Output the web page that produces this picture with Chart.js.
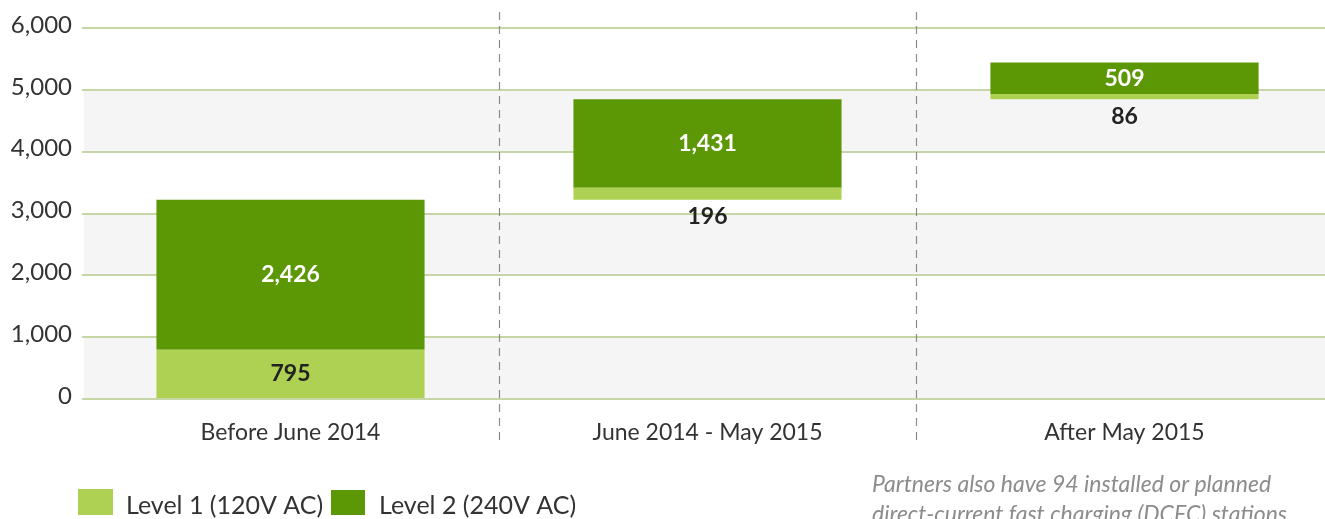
<!DOCTYPE html>
<html lang="en">
    <head>
        <meta charset="utf-8" />
        <script src="https://cdn.jsdelivr.net/npm/chart.js@4/dist/chart.umd.min.js"></script>
        <title>Charging stations</title>
        <style>
            html, body { margin: 0; background: #fff; overflow: hidden; }
        </style>
    </head>
    <body>
        <canvas id="estaciones" width="1333" height="519"></canvas>
        <script>
            var periodos = ["Before June 2014", "June 2014 - May 2015", "After May 2015"];
            var nivel1 = [795, 196, 86];
            var nivel2 = [2426, 1431, 509];
            var ticksY = [0, 1000, 2000, 3000, 4000, 5000, 6000];
            var leyenda = ["Level 1 (120V AC)", "Level 2 (240V AC)"];
            var nota = ["Partners also have 94 installed or planned", "direct-current fast charging (DCFC) stations"];

            var colorN1 = "#aed153", colorN2 = "#5c9705";

            // barras flotantes tipo cascada
            var tramos1 = [], tramos2 = [], base = 0;
            nivel1.forEach((v, i) => {
                tramos1.push([base, base + v]);
                tramos2.push([base + v, base + v + nivel2[i]]);
                base += v + nivel2[i];
            });

            Chart.defaults.font.family = "Lato";
            Chart.defaults.color = "#333";

            var fondo = {
                id: "fondo",
                beforeDraw(chart) {
                    var ctx = chart.ctx, y = chart.scales.y, a = chart.chartArea;
                    ctx.save();
                    ctx.fillStyle = "#f5f5f5";
                    [[0, 1000], [2000, 3000], [4000, 5000]].forEach(b => {
                        var y1 = y.getPixelForValue(b[1]), y0 = y.getPixelForValue(b[0]);
                        ctx.fillRect(a.left + 2, y1, a.right - a.left, y0 - y1);
                    });
                    ctx.restore();
                },
                beforeDatasetsDraw(chart) {
                    var ctx = chart.ctx, x = chart.scales.x;
                    ctx.save();
                    ctx.strokeStyle = "#8a8a8a";
                    ctx.lineWidth = 1.2;
                    ctx.setLineDash([8, 6]);
                    for (var i = 1; i < periodos.length; i++) {
                        var px = Math.round((x.getPixelForValue(i - 1) + x.getPixelForValue(i)) / 2) + 0.5;
                        ctx.beginPath();
                        ctx.moveTo(px, 12);
                        ctx.lineTo(px, 446);
                        ctx.stroke();
                    }
                    ctx.restore();
                },
                afterDraw(chart) {
                    var ctx = chart.ctx;
                    ctx.save();
                    // etiquetas de valores
                    ctx.font = "bold 23px Lato";
                    ctx.textAlign = "center";
                    ctx.textBaseline = "middle";
                    var m1 = chart.getDatasetMeta(0), m2 = chart.getDatasetMeta(1);
                    m2.data.forEach((bar, i) => {
                        ctx.fillStyle = "#fff";
                        ctx.fillText(nivel2[i].toLocaleString("en-US"), bar.x, (bar.y + bar.base) / 2);
                    });
                    m1.data.forEach((bar, i) => {
                        var h = bar.base - bar.y;
                        ctx.fillStyle = "#222";
                        var ty = h > 30 ? (bar.y + bar.base) / 2 : bar.base + 17;
                        ctx.fillText(nivel1[i].toLocaleString("en-US"), bar.x, ty);
                    });
                    // leyenda
                    ctx.font = "25px Lato";
                    ctx.textAlign = "left";
                    ctx.textBaseline = "alphabetic";
                    ctx.fillStyle = colorN1;
                    ctx.fillRect(78, 489, 35, 26);
                    ctx.fillStyle = "#333";
                    ctx.fillText(leyenda[0], 126, 514);
                    ctx.fillStyle = colorN2;
                    ctx.fillRect(331, 490, 34, 25);
                    ctx.fillStyle = "#333";
                    ctx.fillText(leyenda[1], 379, 514);
                    // nota
                    ctx.font = "italic 23px Lato";
                    ctx.fillStyle = "#8c8c8c";
                    ctx.fillText(nota[0], 872, 492);
                    ctx.fillText(nota[1], 872, 522);
                    ctx.restore();
                }
            };

            new Chart(document.getElementById("estaciones").getContext("2d"), {
                type: "bar",
                data: {
                    labels: periodos,
                    datasets: [
                        { label: leyenda[0], data: tramos1, backgroundColor: colorN1 },
                        { label: leyenda[1], data: tramos2, backgroundColor: colorN2 },
                    ],
                },
                options: {
                    responsive: false,
                    animation: false,
                    maintainAspectRatio: false,
                    categoryPercentage: 1,
                    barPercentage: 0.643,
                    layout: { padding: { top: 28, right: 0, left: 0, bottom: 0 } },
                    scales: {
                        x: {
                            stacked: true,
                            grid: { display: false },
                            border: { display: false },
                            ticks: { padding: 12, font: { size: 23 }, color: "#333" },
                            afterFit: s => { s.height = 120; },
                        },
                        y: {
                            min: 0,
                            max: 6000,
                            afterBuildTicks: s => { s.ticks = ticksY.map(v => ({ value: v })); },
                            grid: { color: "#c6d6a6", lineWidth: 2, drawTicks: false },
                            border: { display: false },
                            ticks: {
                                padding: 10,
                                labelOffset: -3,
                                font: { size: 24 },
                                color: "#333",
                                callback: v => v.toLocaleString("en-US"),
                            },
                            afterFit: s => { s.width = 82; },
                        },
                    },
                    plugins: {
                        legend: { display: false },
                        tooltip: { enabled: false },
                    },
                },
                plugins: [fondo],
            });
        </script>
    </body>
</html>
